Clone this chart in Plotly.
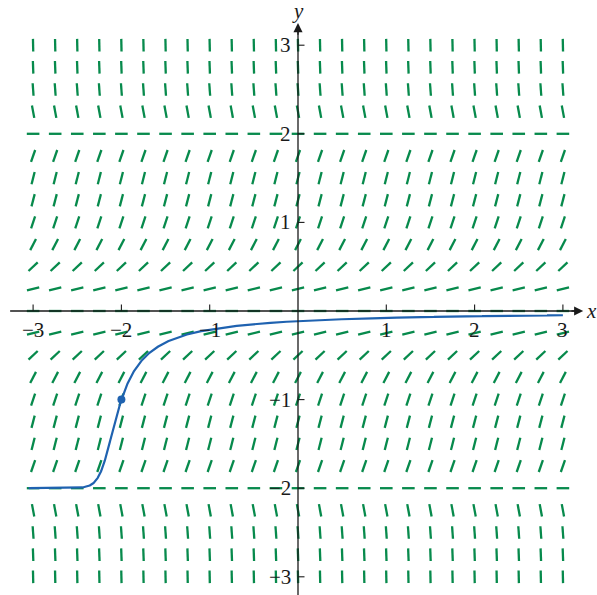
import numpy as np
import plotly.graph_objects as go

# Slope field for dy/dx = y^2 (4 - y^2) with the solution through (-2, -1)
grid_x = [-3 + 0.25 * i for i in range(25)]
grid_y = [-3 + 0.25 * i for i in range(25)]
x_ticks = [-3, -2, -1, 1, 2, 3]
y_ticks = [-3, -2, -1, 1, 2, 3]
x_tick_labels = ["\u22123", "\u22122", "\u22121", "1", "2", "3"]
y_tick_labels = ["\u22123", "\u22122", "\u22121", "1", "2", "3"]
initial_point = (-2.0, -1.0)
curve_x_span = (-3.05, 3.0)


def f(y):
    return y ** 2 * (4 - y ** 2)


W, H = 597, 595
X0, Y0 = 298.0, 311.0          # pixel position of the origin
KX, KY = 88.3, 88.6            # pixels per unit
x_range = [-X0 / KX, (W - X0) / KX]
y_range = [-(H - Y0) / KY, Y0 / KY]

# short direction segments
half_px = 6.3
seg_x, seg_y = [], []
for yv in grid_y:
    s = f(yv)
    th = np.arctan(s * KY / KX)
    dx = np.cos(th) * half_px / KX
    dy = np.sin(th) * half_px / KY
    for xv in grid_x:
        seg_x += [xv - dx, xv + dx, None]
        seg_y += [yv - dy, yv + dy, None]


def rk4(x0, y0, x1, h):
    n = int(abs(x1 - x0) / h)
    h = (x1 - x0) / n
    xs, ys = [x0], [y0]
    x, y = x0, y0
    for _ in range(n):
        k1 = f(y)
        k2 = f(y + h * k1 / 2)
        k3 = f(y + h * k2 / 2)
        k4 = f(y + h * k3)
        y += h * (k1 + 2 * k2 + 2 * k3 + k4) / 6
        x += h
        xs.append(x)
        ys.append(y)
    return xs, ys


bx, by = rk4(initial_point[0], initial_point[1], curve_x_span[0], 0.001)
fx, fy = rk4(initial_point[0], initial_point[1], curve_x_span[1], 0.001)
sol_x = bx[::-1] + fx[1:]
sol_y = by[::-1] + fy[1:]

green = "#078a4c"
blue = "#1f62b0"
ink = "#1a1a1a"

fig = go.Figure()
fig.add_trace(go.Scatter(x=seg_x, y=seg_y, mode="lines",
                         line=dict(color=green, width=2.3), hoverinfo="skip"))

x_tip, y_tip = 3.23, 3.25
shapes = []
# axes
shapes.append(dict(type="line", xref="x", yref="y", x0=-3.26, x1=x_tip - 0.05, y0=0, y1=0,
                   line=dict(color=ink, width=1.3)))
shapes.append(dict(type="line", xref="x", yref="y", x0=0, x1=0, y0=y_range[0], y1=y_tip - 0.05,
                   line=dict(color=ink, width=1.3)))
# tick marks
for t in x_ticks:
    shapes.append(dict(type="line", xref="x", yref="y", x0=t, x1=t, y0=0, y1=6.5 / KY,
                       line=dict(color=ink, width=1.1)))
for t in y_ticks:
    shapes.append(dict(type="line", xref="x", yref="y", x0=0, x1=6.5 / KX, y0=t, y1=t,
                       line=dict(color=ink, width=1.1)))

fig.add_trace(go.Scatter(x=sol_x, y=sol_y, mode="lines",
                         line=dict(color=blue, width=2.2), hoverinfo="skip"))
fig.add_trace(go.Scatter(x=[initial_point[0]], y=[initial_point[1]], mode="markers",
                         marker=dict(color=blue, size=8), hoverinfo="skip"))

annotations = []
# arrow heads
annotations.append(dict(x=x_tip, y=0, ax=x_tip - 0.15, ay=0, xref="x", yref="y",
                        axref="x", ayref="y", text="", showarrow=True, arrowhead=2,
                        arrowsize=1.4, arrowwidth=1.3, arrowcolor=ink))
annotations.append(dict(x=0, y=y_tip, ax=0, ay=y_tip - 0.15, xref="x", yref="y",
                        axref="x", ayref="y", text="", showarrow=True, arrowhead=2,
                        arrowsize=1.4, arrowwidth=1.3, arrowcolor=ink))
lab_font = dict(family="Liberation Serif", size=21, color=ink)
for t, lab in zip(x_ticks, x_tick_labels):
    annotations.append(dict(x=t, y=0, xref="x", yref="y", text=lab, showarrow=False,
                            font=lab_font, xanchor="center", yanchor="middle", yshift=-19))
for t, lab in zip(y_ticks, y_tick_labels):
    annotations.append(dict(x=0, y=t, xref="x", yref="y", text=lab, showarrow=False,
                            font=lab_font, xanchor="right", yanchor="middle", xshift=-5))
annotations.append(dict(x=1, y=0, xref="paper", yref="y", text="<i>x</i>", showarrow=False,
                        font=lab_font, xanchor="right", yanchor="middle", borderpad=0,
                        xshift=1))
annotations.append(dict(x=0, y=y_tip, xref="x", yref="y", text="<i>y</i>", showarrow=False,
                        font=lab_font, xanchor="center", yanchor="bottom", yshift=-2))

fig.update_layout(
    width=W, height=H, margin=dict(l=0, r=0, t=0, b=0),
    paper_bgcolor="white", plot_bgcolor="white", showlegend=False,
    xaxis=dict(range=x_range, visible=False, fixedrange=True),
    yaxis=dict(range=y_range, visible=False, fixedrange=True),
    shapes=shapes, annotations=annotations,
)
fig.write_html("out.html")
